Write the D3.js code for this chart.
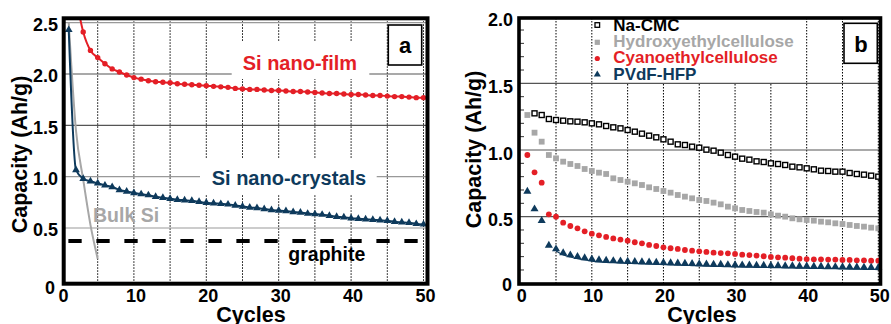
<!DOCTYPE html>
<html><head><meta charset="utf-8">
<script src="https://cdn.jsdelivr.net/npm/d3@7"></script>
<style>
body{margin:0;background:#fff}
svg{display:block;font-family:"Liberation Sans",Arial,sans-serif;font-weight:bold}
</style></head><body>
<svg id="c" width="891" height="324"></svg>
<script>
// ---------- data: panel a ----------
const xTickValues = [0, 10, 20, 30, 40, 50];
const gridCycles = [5, 10, 15, 20, 25, 30, 35, 40, 45, 50];
const yTicksA = [0, 0.5, 1.0, 1.5, 2.0, 2.5];
const yGridA = [0.5, 1.0, 1.5, 2.0, 2.5];

const filmStartCycle = 2;
const filmValues = [2.75, 2.41, 2.23, 2.16, 2.10, 2.05, 2.02, 1.99, 1.965, 1.95,
  1.935, 1.925, 1.92, 1.915, 1.905, 1.90, 1.895, 1.89, 1.885, 1.88,
  1.875, 1.87, 1.86, 1.855, 1.85, 1.85, 1.845, 1.84, 1.84, 1.835,
  1.83, 1.83, 1.825, 1.82, 1.815, 1.81, 1.81, 1.805, 1.80, 1.80,
  1.795, 1.79, 1.79, 1.785, 1.78, 1.78, 1.775, 1.77, 1.77];

const crystalStartCycle = 1;
const crystalValues = [2.43, 1.065, 0.98, 0.955, 0.935, 0.915, 0.90, 0.87, 0.855, 0.84,
  0.83, 0.82, 0.805, 0.795, 0.785, 0.775, 0.77, 0.765, 0.755, 0.745,
  0.74, 0.735, 0.73, 0.72, 0.71, 0.70, 0.695, 0.685, 0.675, 0.67,
  0.665, 0.655, 0.65, 0.64, 0.635, 0.63, 0.62, 0.61, 0.605, 0.595,
  0.59, 0.585, 0.58, 0.575, 0.57, 0.56, 0.555, 0.55, 0.54, 0.535];

const bulkCycles = [1, 2, 3, 4, 5];
const bulkValues = [2.5, 1.45, 0.97, 0.53, 0.2];

const graphiteCycles = [0.95, 49.3];
const graphiteValue = 0.372;

const labelsA = ["Si nano-film", "Si nano-crystals", "Bulk Si", "graphite"];

// ---------- data: panel b ----------
const yTicksB = [0, 0.5, 1.0, 1.5, 2.0];
const yGridB = [0.5, 1.0, 1.5];
const yMinorB = [0.1,0.2,0.3,0.4,0.6,0.7,0.8,0.9,1.1,1.2,1.3,1.4,1.6,1.7,1.8,1.9];

const seriesNamesB = ["Na-CMC", "Hydroxyethylcellulose", "Cyanoethylcellulose", "PVdF-HFP"];
const naCmcStart = 2;
const naCmcValues = [1.275, 1.2625, 1.2325, 1.225, 1.22, 1.215, 1.2125, 1.2075, 1.20,
  1.1925, 1.18, 1.17, 1.1625, 1.15, 1.1375, 1.1225, 1.1075, 1.095, 1.08,
  1.0625, 1.0425, 1.0375, 1.025, 1.0175, 1.0025, 0.995, 0.98, 0.9625, 0.95,
  0.935, 0.9275, 0.915, 0.91, 0.90, 0.895, 0.8875, 0.875, 0.87, 0.8625,
  0.855, 0.845, 0.8425, 0.8375, 0.8375, 0.8275, 0.82, 0.815, 0.8075, 0.80];
const hecStart = 1;
const hecValues = [1.2625, 1.13, 1.0625, 0.9625, 0.9375, 0.9125, 0.895, 0.88, 0.8575, 0.8425,
  0.83, 0.82, 0.7875, 0.775, 0.7625, 0.75, 0.7375, 0.72, 0.7075, 0.6925,
  0.68, 0.6625, 0.65, 0.6375, 0.625, 0.6175, 0.605, 0.5925, 0.575, 0.5625,
  0.55, 0.5425, 0.535, 0.53, 0.5175, 0.5075, 0.50, 0.4875, 0.48, 0.475,
  0.47, 0.4625, 0.4575, 0.45, 0.445, 0.4375, 0.43, 0.425, 0.4175, 0.4125];
const cecStart = 1;
const cecValues = [0.9625, 0.8325, 0.755, 0.5175, 0.50, 0.455, 0.43, 0.4125, 0.39, 0.372,
  0.36, 0.348, 0.337, 0.328, 0.32, 0.308, 0.30, 0.288, 0.28, 0.27,
  0.263, 0.258, 0.25, 0.245, 0.24, 0.235, 0.23, 0.227, 0.225, 0.22,
  0.215, 0.212, 0.208, 0.203, 0.198, 0.195, 0.192, 0.188, 0.185, 0.182,
  0.18, 0.18, 0.178, 0.178, 0.175, 0.175, 0.172, 0.172, 0.17, 0.17];
const pvdfStart = 1;
const pvdfValues = [0.69, 0.557, 0.47, 0.285, 0.257, 0.228, 0.212, 0.20, 0.19, 0.182,
  0.176, 0.172, 0.169, 0.167, 0.165, 0.163, 0.161, 0.159, 0.157, 0.155,
  0.153, 0.151, 0.15, 0.148, 0.146, 0.144, 0.142, 0.141, 0.139, 0.138,
  0.137, 0.136, 0.135, 0.134, 0.133, 0.132, 0.131, 0.13, 0.129, 0.128,
  0.127, 0.126, 0.125, 0.124, 0.123, 0.122, 0.121, 0.12, 0.119, 0.118];

// ---------- styles ----------
const RED = "#e41f26", NAVY = "#0e3a5c", GRAY = "#a7a7a7";

const svg = d3.select("#c");
svg.append("rect").attr("width", 891).attr("height", 324).attr("fill", "#fff");

function pts(start, vals) { return vals.map((v, i) => [start + i, v]); }

// =================== PANEL A ===================
const xA = d3.scaleLinear().domain([0, 50]).range([61.5, 423.5]);
const yA = d3.scaleLinear().domain([0, 2.5]).range([279.3, 22.7]);
const gA = svg.append("g");
const frameA = {x0: 63.7, x1: 427.5, y0: 18.3, y1: 283.7};

gA.append("clipPath").attr("id", "clipA").append("rect")
  .attr("x", frameA.x0).attr("y", frameA.y0).attr("width", frameA.x1 - frameA.x0).attr("height", frameA.y1 - frameA.y0);

// dotted verticals
gA.selectAll("line.vd").data(gridCycles).join("line")
  .attr("x1", d => xA(d)).attr("x2", d => xA(d)).attr("y1", frameA.y0).attr("y2", frameA.y1)
  .attr("stroke", "#000").attr("stroke-width", 1).attr("stroke-dasharray", "1.5,1.5");
// horizontal grid
gA.selectAll("line.hg").data(yGridA).join("line")
  .attr("x1", frameA.x0).attr("x2", frameA.x1).attr("y1", d => yA(d)).attr("y2", d => yA(d))
  .attr("stroke", d => (d === 2.0 || d === 1.5) ? "#555" : "#999").attr("stroke-width", 1.2);

// white boxes behind labels
gA.append("rect").attr("x", 231.7).attr("y", 42).attr("width", 137.6).attr("height", 37).attr("fill", "#fff");
gA.append("rect").attr("x", 200).attr("y", 158).attr("width", 176.7).attr("height", 36).attr("fill", "#fff");

const plotA = gA.append("g").attr("clip-path", "url(#clipA)");
const lineA = d3.line().x(d => xA(d[0])).y(d => yA(d[1])).curve(d3.curveMonotoneX);

// bulk Si
plotA.append("path").datum(bulkCycles.map((c, i) => [c, bulkValues[i]]))
  .attr("d", lineA).attr("fill", "none").attr("stroke", GRAY).attr("stroke-width", 2);
// graphite
plotA.append("path").datum(graphiteCycles.map(c => [c, graphiteValue]))
  .attr("d", d3.line().x(d => xA(d[0])).y(d => yA(d[1])))
  .attr("fill", "none").attr("stroke", "#000").attr("stroke-width", 4).attr("stroke-dasharray", "13.3,14.7");

// nano-crystals
const crystal = pts(crystalStartCycle, crystalValues);
plotA.append("path").datum(crystal).attr("d", lineA).attr("fill", "none").attr("stroke", NAVY).attr("stroke-width", 2);
plotA.selectAll("path.tri").data(crystal).join("path")
  .attr("transform", d => `translate(${xA(d[0])},${yA(d[1])})`)
  .attr("d", d3.symbol(d3.symbolTriangle, 26)).attr("fill", NAVY);

// nano-film
const film = pts(filmStartCycle, filmValues);
plotA.append("path").datum(film).attr("d", lineA).attr("fill", "none").attr("stroke", RED).attr("stroke-width", 2);
plotA.selectAll("circle.f").data(film).join("circle")
  .attr("cx", d => xA(d[0])).attr("cy", d => yA(d[1])).attr("r", 2.7).attr("fill", RED);

// labels
gA.append("text").attr("x", 242.7).attr("y", 70).attr("font-size", 20).attr("fill", RED).text(labelsA[0]);
gA.append("text").attr("x", 211.7).attr("y", 184.5).attr("font-size", 20).attr("fill", NAVY).text(labelsA[1]);
gA.append("text").attr("x", 93).attr("y", 221.5).attr("font-size", 19.5).attr("fill", GRAY).text(labelsA[2]);
gA.append("text").attr("x", 288.3).attr("y", 261).attr("font-size", 19.5).attr("fill", "#000").text(labelsA[3]);

// a box
gA.append("rect").attr("x", 388.3).attr("y", 25).attr("width", 33.4).attr("height", 40)
  .attr("fill", "#fff").attr("stroke", "#000").attr("stroke-width", 1.6);
gA.append("text").attr("x", 405).attr("y", 52.5).attr("text-anchor", "middle").attr("font-size", 22).text("a");

// frame
gA.append("rect").attr("x", frameA.x0).attr("y", frameA.y0).attr("width", frameA.x1 - frameA.x0).attr("height", frameA.y1 - frameA.y0)
  .attr("fill", "none").attr("stroke", "#000").attr("stroke-width", 4);

// tick labels
gA.selectAll("text.xt").data(xTickValues).join("text")
  .attr("x", d => xA(d) + 2).attr("y", 301.5).attr("text-anchor", "middle").attr("font-size", 18).text(d => d);
gA.selectAll("text.yt").data(yTicksA).join("text")
  .attr("x", d => d === 0 ? 55 : 58).attr("y", d => d === 0 ? 294 : yA(d) + 8.2)
  .attr("text-anchor", "end").attr("font-size", 18).text(d => d === 0 ? "0" : d3.format(".1f")(d));
gA.append("text").attr("x", 251).attr("y", 322).attr("text-anchor", "middle").attr("font-size", 21.5).text("Cycles");
gA.append("text").attr("transform", "translate(27,154.5) rotate(-90)").attr("text-anchor", "middle").attr("font-size", 21.5).text("Capacity (Ah/g)");

// =================== PANEL B ===================
const xB = d3.scaleLinear().domain([0, 50]).range([520.2, 878.3]);
const yB = d3.scaleLinear().domain([0, 2]).range([283.3, 16.7]);
const gB = svg.append("g");
const frameB = {x0: 519, x1: 880.5, y0: 18, y1: 284};

gB.selectAll("line.vd").data(gridCycles).join("line")
  .attr("x1", d => xB(d)).attr("x2", d => xB(d)).attr("y1", frameB.y0).attr("y2", frameB.y1)
  .attr("stroke", "#000").attr("stroke-width", 1).attr("stroke-dasharray", "1.5,1.5");
// legend background
gB.append("rect").attr("x", 593).attr("y", 19).attr("width", 212).attr("height", 64).attr("fill", "#fff");
gB.selectAll("line.hg").data(yGridB).join("line")
  .attr("x1", frameB.x0).attr("x2", frameB.x1).attr("y1", d => yB(d)).attr("y2", d => yB(d))
  .attr("stroke", "#555").attr("stroke-width", 1.2);
gB.selectAll("line.mt").data(yMinorB).join("line")
  .attr("x1", frameB.x0).attr("x2", frameB.x0 + 5).attr("y1", d => yB(d)).attr("y2", d => yB(d))
  .attr("stroke", "#333").attr("stroke-width", 1);

// series
const hec = pts(hecStart, hecValues);
gB.selectAll("rect.hec").data(hec).join("rect")
  .attr("x", d => xB(d[0]) - 2.9).attr("y", d => yB(d[1]) - 2.9).attr("width", 5.8).attr("height", 5.8).attr("fill", GRAY);
const na = pts(naCmcStart, naCmcValues);
gB.selectAll("rect.na").data(na).join("rect")
  .attr("x", d => xB(d[0]) - 2.5).attr("y", d => yB(d[1]) - 2.5).attr("width", 5).attr("height", 5)
  .attr("fill", "#fff").attr("stroke", "#000").attr("stroke-width", 1.4);
const cec = pts(cecStart, cecValues);
gB.selectAll("circle.cec").data(cec).join("circle")
  .attr("cx", d => xB(d[0])).attr("cy", d => yB(d[1])).attr("r", 2.9).attr("fill", RED);
const pv = pts(pvdfStart, pvdfValues);
gB.append("path").datum(pv.filter(d => d[0] >= 5))
  .attr("d", d3.line().x(d => xB(d[0])).y(d => yB(d[1]) + 2).curve(d3.curveMonotoneX))
  .attr("fill", "none").attr("stroke", NAVY).attr("stroke-width", 1.2);
gB.selectAll("path.pv").data(pv).join("path")
  .attr("transform", d => `translate(${xB(d[0])},${yB(d[1])})`)
  .attr("d", d3.symbol(d3.symbolTriangle, 28)).attr("fill", NAVY);

// legend
const legColors = ["#000", GRAY, RED, NAVY];
const legBase = [30.7, 47, 63.3, 80];
const legCy = [25, 42.3, 58.5, 74.5];
const legG = gB.append("g");
seriesNamesB.forEach((name, i) => {
  const cy = legCy[i], cx = 597.3;
  if (i === 0) legG.append("rect").attr("x", cx - 2.3).attr("y", cy - 2.3).attr("width", 4.6).attr("height", 4.6).attr("fill", "#fff").attr("stroke", "#000").attr("stroke-width", 1.3);
  if (i === 1) legG.append("rect").attr("x", cx - 2.6).attr("y", cy - 2.6).attr("width", 5.2).attr("height", 5.2).attr("fill", GRAY);
  if (i === 2) legG.append("circle").attr("cx", cx).attr("cy", cy).attr("r", 2.6).attr("fill", RED);
  if (i === 3) legG.append("path").attr("transform", `translate(${cx},${cy})`).attr("d", d3.symbol(d3.symbolTriangle, 22)).attr("fill", NAVY);
  legG.append("text").attr("x", 613.3).attr("y", legBase[i]).attr("font-size", 17).attr("fill", legColors[i]).text(name);
});

// b box
gB.append("rect").attr("x", 844).attr("y", 23.3).attr("width", 33.3).attr("height", 40)
  .attr("fill", "#fff").attr("stroke", "#000").attr("stroke-width", 1.6);
gB.append("text").attr("x", 861).attr("y", 51.5).attr("text-anchor", "middle").attr("font-size", 22).text("b");

gB.append("rect").attr("x", frameB.x0).attr("y", frameB.y0).attr("width", frameB.x1 - frameB.x0).attr("height", frameB.y1 - frameB.y0)
  .attr("fill", "none").attr("stroke", "#000").attr("stroke-width", 3.6);

gB.selectAll("text.xt").data(xTickValues).join("text")
  .attr("x", d => xB(d) + 1.5).attr("y", 301.5).attr("text-anchor", "middle").attr("font-size", 18).text(d => d);
gB.selectAll("text.yt").data(yTicksB).join("text")
  .attr("x", d => d === 0 ? 512 : 513).attr("y", d => d === 0 ? 290.5 : yB(d) + 9.5)
  .attr("text-anchor", "end").attr("font-size", 18).text(d => d === 0 ? "0" : d3.format(".1f")(d));
gB.append("text").attr("x", 702).attr("y", 322).attr("text-anchor", "middle").attr("font-size", 21.5).text("Cycles");
gB.append("text").attr("transform", "translate(480.5,149.5) rotate(-90)").attr("text-anchor", "middle").attr("font-size", 21.5).text("Capacity (Ah/g)");
</script>
</body></html>
